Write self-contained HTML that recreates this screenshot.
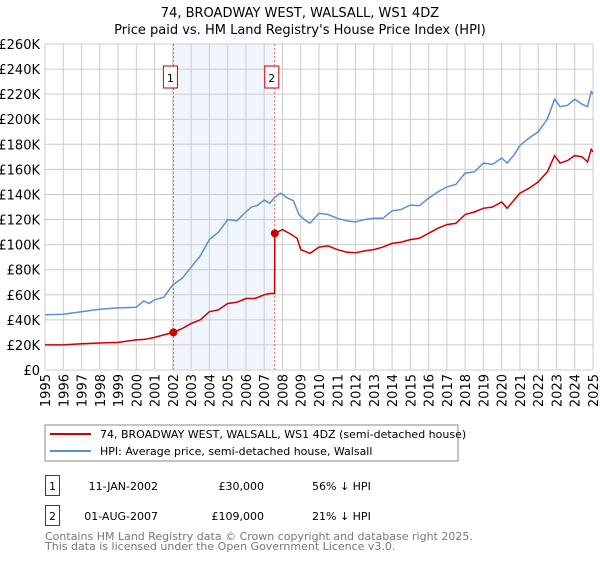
<!DOCTYPE html>
<html><head><meta charset="utf-8"><style>
body{margin:0;background:#fff;width:600px;height:560px;overflow:hidden;font-family:"DejaVu Sans","Liberation Sans",sans-serif;}
svg text{font-family:"DejaVu Sans","Liberation Sans",sans-serif;}
</style></head><body>
<svg id="chart" width="600" height="560">
<text x="300" y="17" text-anchor="middle" font-size="13">74, BROADWAY WEST, WALSALL, WS1 4DZ</text>
<text x="300" y="34" text-anchor="middle" font-size="13">Price paid vs. HM Land Registry's House Price Index (HPI)</text>
<g id="grid"></g><g id="series"></g><g id="axes"></g>
<rect x="45" y="425" width="413" height="36" fill="#fff" stroke="#888"/>
<line x1="50" y1="434" x2="91" y2="434" stroke="#cc0000" stroke-width="2"/>
<text x="100" y="438" font-size="11">74, BROADWAY WEST, WALSALL, WS1 4DZ (semi-detached house)</text>
<line x1="50" y1="451" x2="91" y2="451" stroke="#5b8fd4" stroke-width="2"/>
<text x="100" y="455" font-size="11">HPI: Average price, semi-detached house, Walsall</text>
<g font-size="11">
<rect x="45.5" y="475.5" width="14" height="20" fill="none" stroke="#cc0000"/>
<text x="52.5" y="490" text-anchor="middle">1</text>
<text x="158" y="490" text-anchor="end">11-JAN-2002</text>
<text x="264" y="490" text-anchor="end">£30,000</text>
<text x="312" y="490">56% ↓ HPI</text>
<rect x="45.5" y="505.5" width="14" height="20" fill="none" stroke="#cc0000"/>
<text x="52.5" y="520" text-anchor="middle">2</text>
<text x="158" y="520" text-anchor="end">01-AUG-2007</text>
<text x="264" y="520" text-anchor="end">£109,000</text>
<text x="312" y="520">21% ↓ HPI</text>
</g>
<text x="45" y="540" font-size="11" fill="#777">Contains HM Land Registry data © Crown copyright and database right 2025.</text>
<text x="45" y="550" font-size="11" fill="#777">This data is licensed under the Open Government Licence v3.0.</text>
</svg>
<script>
const hpiYears=[1995,1996,1997,1998,1999,2000,2000.4,2000.7,2001,2001.5,2002,2002.5,2003,2003.5,2004,2004.5,2005,2005.5,2006,2006.3,2006.6,2007,2007.3,2007.6,2007.9,2008.3,2008.6,2008.9,2009.2,2009.5,2010,2010.5,2011,2011.5,2012,2012.5,2013,2013.5,2014,2014.5,2015,2015.5,2016,2016.5,2017,2017.5,2018,2018.5,2019,2019.5,2020,2020.3,2020.7,2021,2021.5,2022,2022.5,2022.9,2023.2,2023.6,2024,2024.4,2024.7,2024.9,2025];
const hpiValues=[44,44.5,46.5,48.5,49.5,50,55,53,56,58,68,73,82,91,104,110,120,119,126,130,131,135.5,133,138,141,137,135,124,120,117,125,124,121,119,118,120,121,121,127,128,131.6,131,137,142,146,148,157,158,165,164,169,165,172,179,185,190,200,216,210,211,216,212,210,222,220];
const priceYears=[1995,1996,1997,1998,1999,2000,2000.5,2001,2001.5,2002.03,2002.5,2003,2003.5,2004,2004.5,2005,2005.5,2006,2006.5,2007,2007.3,2007.57,2007.58,2008,2008.5,2008.8,2009,2009.5,2010,2010.5,2011,2011.5,2012,2012.5,2013,2013.5,2014,2014.5,2015,2015.5,2016,2016.5,2017,2017.5,2018,2018.5,2019,2019.5,2020,2020.3,2020.7,2021,2021.5,2022,2022.5,2022.9,2023.2,2023.6,2024,2024.4,2024.7,2024.9,2025];
const priceValues=[20,20,21,21.5,22,24,24.5,26,28,30,33,37,40,46.5,48,53,54,57,57,60,61,61,109,112,108,105,96,93,98,99,96,94,93.5,95,96,98,101,102,104,105,109,113,116,117,124,126,129,130,134,129,136,141,145,150,158,171,165,167,171,170,166,176,174];
const saleYears=[2002.03,2007.58];
const saleValues=[30,109];
const saleLabels=["1","2"];
const yTicks=[0,20,40,60,80,100,120,140,160,180,200,220,240,260];
const xTicks=[1995,1996,1997,1998,1999,2000,2001,2002,2003,2004,2005,2006,2007,2008,2009,2010,2011,2012,2013,2014,2015,2016,2017,2018,2019,2020,2021,2022,2023,2024,2025];
const X0=45,X1=593,Y0=370,Y1=44;
const xs=y=>X0+(y-1995)/30*(X1-X0);
const ys=v=>Y0-v/260*(Y0-Y1);
const NS='http://www.w3.org/2000/svg';
function mk(tag,attrs,parent,txt){const e=document.createElementNS(NS,tag);for(const k in attrs)e.setAttribute(k,attrs[k]);if(txt!==undefined)e.textContent=txt;parent.appendChild(e);return e;}
const grid=document.getElementById('grid'),axes=document.getElementById('axes'),series=document.getElementById('series');
const shade=mk('rect',{x:xs(saleYears[0]),y:Y1,width:xs(saleYears[1])-xs(saleYears[0]),height:Y0-Y1,fill:'#eef3fc',opacity:0.8},grid);


yTicks.forEach(v=>{
 const l=mk('line',{x1:X0,x2:X1,y1:ys(v),y2:ys(v),stroke:'#ccc','stroke-width':1},grid);
 
 
 const t=mk('text',{x:40,y:ys(v)+5,'text-anchor':'end','font-size':13},axes,v===0?'£0':'£'+v+'K');
 
 
});
xTicks.forEach(y=>{
 const l=mk('line',{x1:xs(y),x2:xs(y),y1:Y1,y2:Y0,stroke:'#ccc','stroke-width':1},grid);
 
 
 const t=mk('text',{transform:`translate(${xs(y)+5},374) rotate(-90)`,'text-anchor':'end','font-size':13},axes,String(y));
 
 
});
saleYears.forEach((y,i)=>{
 const l=mk('line',{x1:xs(y),x2:xs(y),y1:Y1,y2:Y0,stroke:'#e06060','stroke-width':1,'stroke-dasharray':'2,2'},series);
 
 
 const b=mk('rect',{x:xs(y)-10,y:66,width:14,height:22,fill:'#fff',stroke:'#cc0000'},series);
 
 
 const t=mk('text',{x:xs(y)-3,y:82,'text-anchor':'middle','font-size':11},series,saleLabels[i]);
 
 
});
const path=(xa,va)=>xa.map((y,i)=>(i?'L':'M')+xs(y).toFixed(1)+','+ys(va[i]).toFixed(1)).join('');
const hp=mk('path',{d:path(hpiYears,hpiValues),fill:'none',stroke:'#5b8fd4','stroke-width':1.5},series);


const pp=mk('path',{d:path(priceYears,priceValues),fill:'none',stroke:'#cc0000','stroke-width':1.5},series);


saleYears.forEach((y,i)=>{
 const c=mk('circle',{cx:xs(y),cy:ys(saleValues[i]),r:4,fill:'#cc0000'},series);
 
 
});
const ax=mk('line',{x1:X0,x2:X1,y1:Y0,y2:Y0,stroke:'#ccc'},axes);


</script>
</body></html>
